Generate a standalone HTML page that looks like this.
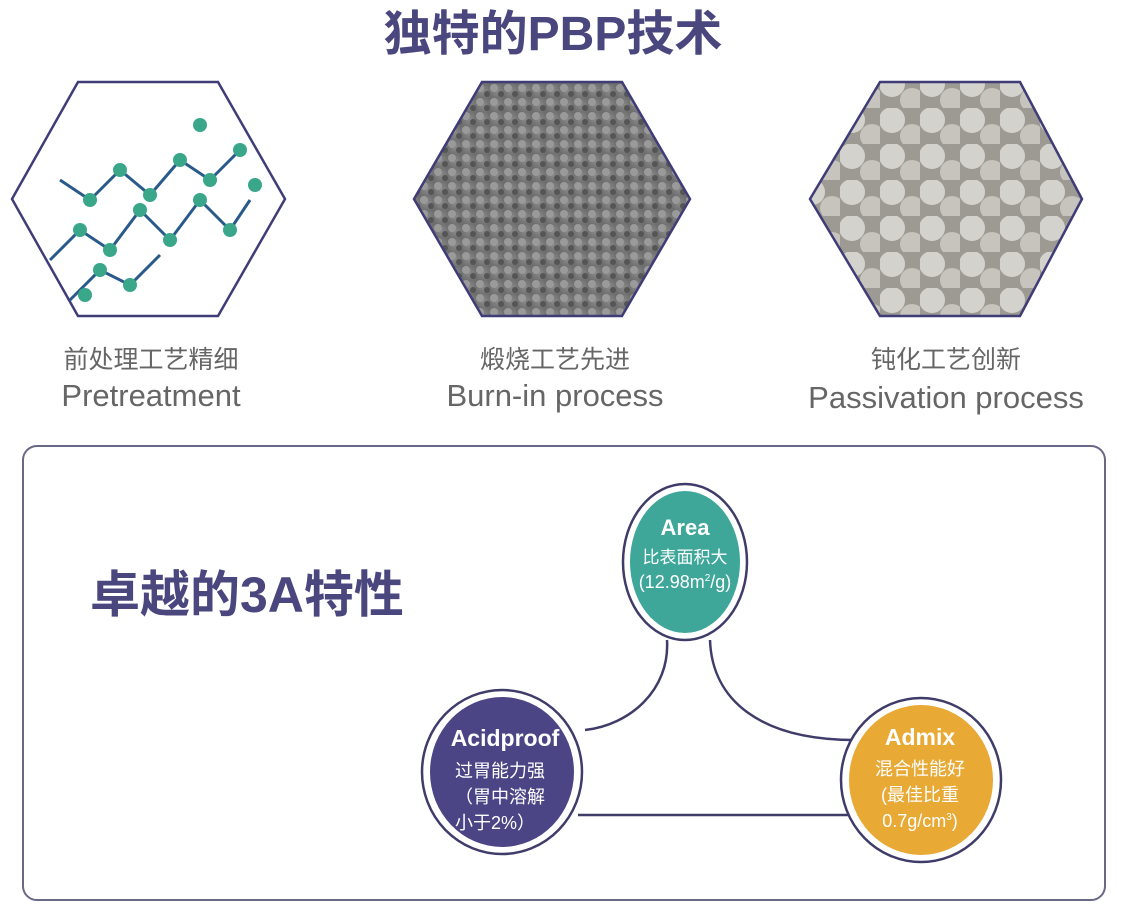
<!DOCTYPE html>
<html><head><meta charset="utf-8"><style>
html,body{margin:0;padding:0;background:#fff;}
svg{display:block;font-family:"Liberation Sans","Noto Sans CJK SC",sans-serif;}
</style></head><body>
<svg width="1126" height="918" viewBox="0 0 1126 918" xmlns="http://www.w3.org/2000/svg">
<defs>
<radialGradient id="g2" cx="50%" cy="50%" r="60%"><stop offset="0" stop-color="#8a8a8a"/><stop offset="1" stop-color="#6e6e6e"/></radialGradient>
<pattern id="p2" width="14" height="14" patternUnits="userSpaceOnUse"><rect width="14" height="14" fill="url(#g2)"/><circle cx="4" cy="4" r="4" fill="#9a9a9a"/><circle cx="11" cy="10" r="3" fill="#555"/></pattern>
<pattern id="p3" width="40" height="36" patternUnits="userSpaceOnUse"><rect width="40" height="36" fill="#9c9a92"/><circle cx="12" cy="12" r="13" fill="#d4d2cc"/><circle cx="32" cy="28" r="12" fill="#c6c4bd"/></pattern>
</defs>
<text x="553" y="50" text-anchor="middle" font-size="48" font-weight="bold" fill="#4a467e">独特的PBP技术</text>
<!-- hex1 -->
<polygon points="78,82 218,82 285,199 218,316 78,316 12,199" fill="#fff" stroke="#3f3c78" stroke-width="2.5"/>
<g stroke="#2a5a8a" stroke-width="3" fill="none">
<polyline points="50,260 80,230 110,250 140,210 170,240 200,200 230,230 250,200"/>
<polyline points="60,180 90,200 120,170 150,195 180,160 210,180 240,150"/>
<polyline points="70,300 100,270 130,285 160,255"/>
</g>
<g fill="#3aa68a">
<circle cx="80" cy="230" r="7"/><circle cx="110" cy="250" r="7"/><circle cx="140" cy="210" r="7"/><circle cx="170" cy="240" r="7"/><circle cx="200" cy="200" r="7"/><circle cx="230" cy="230" r="7"/><circle cx="90" cy="200" r="7"/><circle cx="120" cy="170" r="7"/><circle cx="150" cy="195" r="7"/><circle cx="180" cy="160" r="7"/><circle cx="210" cy="180" r="7"/><circle cx="240" cy="150" r="7"/><circle cx="100" cy="270" r="7"/><circle cx="130" cy="285" r="7"/><circle cx="255" cy="185" r="7"/><circle cx="200" cy="125" r="7"/><circle cx="85" cy="295" r="7"/>
</g>
<!-- hex2 -->
<polygon points="482,82 622,82 690,199 622,316 482,316 414,199" fill="url(#p2)" stroke="#3f3c78" stroke-width="2.5"/>
<!-- hex3 -->
<polygon points="880,82 1020,82 1082,199 1020,316 880,316 810,199" fill="url(#p3)" stroke="#3f3c78" stroke-width="2.5"/>
<g fill="#666" text-anchor="middle">
<text x="151" y="368" font-size="25">前处理工艺精细</text>
<text x="151" y="406" font-size="31">Pretreatment</text>
<text x="555" y="368" font-size="25">煅烧工艺先进</text>
<text x="555" y="406" font-size="31">Burn-in process</text>
<text x="946" y="368" font-size="25">钝化工艺创新</text>
<text x="946" y="408" font-size="31">Passivation process</text>
</g>
<rect x="23" y="446" width="1082" height="454" rx="14" fill="none" stroke="#6a6887" stroke-width="2"/>
<text x="90" y="612" font-size="50" font-weight="bold" fill="#4a467e">卓越的3A特性</text>
<!-- connectors -->
<g fill="none" stroke="#3f3c6a" stroke-width="2.5">
<path d="M667,640 C670,690 630,725 585,730"/>
<path d="M710,640 C712,700 760,740 855,740"/>
<path d="M578,815 L850,815"/>
</g>
<g stroke="#3f3c6a" stroke-width="2.5" fill="#fff">
<ellipse cx="685" cy="562" rx="62" ry="78"/>
<ellipse cx="502" cy="772" rx="80" ry="82"/>
<ellipse cx="921" cy="780" rx="80" ry="82"/>
</g>
<ellipse cx="685" cy="562" rx="55" ry="71" fill="#3ea79a"/>
<ellipse cx="502" cy="772" rx="72" ry="75" fill="#4b4585"/>
<ellipse cx="921" cy="780" rx="72" ry="75" fill="#e8a935"/>
<g fill="#fff" text-anchor="middle">
<text x="685" y="535" font-size="22" font-weight="bold">Area</text>
<text x="685" y="563" font-size="17">比表面积大</text>
<text x="685" y="588" font-size="18">(12.98m<tspan font-size="10" dy="-7">2</tspan><tspan dy="7">/g)</tspan></text>
<text x="505" y="746" font-size="23" font-weight="bold">Acidproof</text>
<text x="500" y="777" font-size="18">过胃能力强</text>
<text x="500" y="803" font-size="18">（胃中溶解</text>
<text x="495" y="829" font-size="18">小于2%）</text>
<text x="920" y="745" font-size="23" font-weight="bold">Admix</text>
<text x="920" y="775" font-size="18">混合性能好</text>
<text x="920" y="801" font-size="18">(最佳比重</text>
<text x="920" y="827" font-size="18">0.7g/cm<tspan font-size="10" dy="-7">3</tspan><tspan dy="7">)</tspan></text>
</g>
</svg>
</body></html>
